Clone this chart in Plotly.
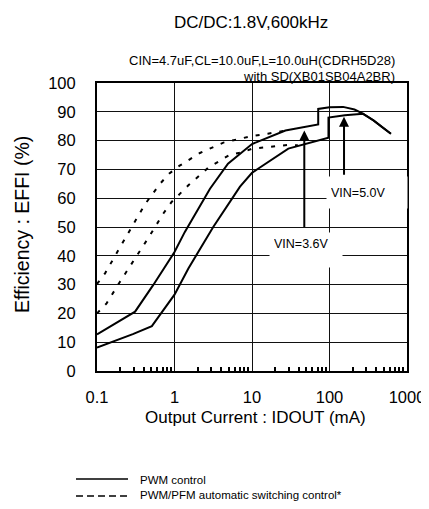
import math
import plotly.graph_objects as go

# ---- data ----
pwm_36_x = [0.1, 0.31, 0.53, 1.0, 1.36, 2.87, 4.9, 10, 27, 70, 71.5, 71.5, 100, 150, 210, 270, 370, 470, 620]
pwm_36_y = [12.7, 20.6, 29.8, 41.3, 48.3, 63.3, 72.0, 78.8, 83.5, 85.4, 85.6, 91.0, 91.6, 91.7, 90.8, 89.4, 87.0, 84.8, 82.4]

pwm_50_x = [0.1, 0.29, 0.51, 1.0, 1.51, 3.16, 7.0, 10, 12.1, 29.4, 97, 97, 158, 224, 270, 370, 470, 620]
pwm_50_y = [8.1, 12.8, 15.6, 26.5, 35.6, 50.0, 64.0, 68.8, 70.3, 77.2, 81.0, 88.0, 88.8, 89.1, 89.3, 87.0, 84.8, 82.4]

pfm_36_x = [0.1, 0.127, 0.188, 0.275, 0.416, 0.65, 0.85, 1.15, 2.13, 4.27, 6.3, 10, 16, 27]
pfm_36_y = [30.2, 33.9, 41.9, 49.8, 57.9, 65.0, 68.5, 71.2, 75.7, 79.3, 80.4, 81.6, 82.4, 83.5]

pfm_50_x = [0.1, 0.133, 0.198, 0.309, 0.469, 0.718, 0.918, 1.18, 1.51, 2.73, 5.2, 7.7, 10, 29, 39]
pfm_50_y = [20.0, 23.5, 31.0, 39.0, 46.6, 54.7, 58.7, 61.6, 64.5, 70.6, 75.1, 76.0, 77.2, 78.5, 78.4]

x_tickvals = [0.1, 1, 10, 100, 1000]
x_ticktext = ["0.1", "1", "10", "100", "1000"]
minor_vals = [m * d for d in (0.1, 1, 10, 100) for m in range(2, 10)]

# arrows: (label, current mA, tip efficiency, tail efficiency)
arrows = [("VIN=3.6V", 47.3, 83.5, 49.5), ("VIN=5.0V", 154, 88.3, 67.6)]

FONT = "Liberation Sans, Arial, sans-serif"

fig = go.Figure()
solid = dict(color="black", width=2)
dashed = dict(color="black", width=2, dash="4px,8px")
fig.add_trace(go.Scatter(x=pwm_36_x, y=pwm_36_y, mode="lines", line=solid, showlegend=False))
fig.add_trace(go.Scatter(x=pwm_50_x, y=pwm_50_y, mode="lines", line=solid, showlegend=False))
fig.add_trace(go.Scatter(x=pfm_36_x, y=pfm_36_y, mode="lines", line=dashed, showlegend=False))
fig.add_trace(go.Scatter(x=pfm_50_x, y=pfm_50_y, mode="lines", line=dashed, showlegend=False))

# the page body adds an 8px margin, so the figure is 8px smaller and margins shifted
fig.update_layout(
    width=421, height=501,
    margin=dict(l=89, r=22, t=75, b=138, autoexpand=False),
    showlegend=False,
    paper_bgcolor="white", plot_bgcolor="white",
    font=dict(family=FONT, color="black"),
    xaxis=dict(
        type="log", range=[-1, 3], automargin=False,
        tickvals=x_tickvals, ticktext=x_ticktext,
        showgrid=True, gridcolor="#111", gridwidth=1.4,
        ticks="", ticklabelstandoff=10,
        tickfont=dict(size=16.5),
        showline=True, linecolor="black", linewidth=2, mirror=True,
        minor=dict(tickvals=minor_vals, ticks="inside", ticklen=4, tickwidth=2,
                   tickcolor="black", showgrid=False),
        zeroline=False,
    ),
    yaxis=dict(
        range=[0, 100], dtick=10, tick0=0, automargin=False,
        showgrid=True, gridcolor="#111", gridwidth=1.4,
        ticks="", ticklabelstandoff=16,
        tickfont=dict(size=16.5),
        showline=True, linecolor="black", linewidth=2, mirror=True,
        zeroline=False,
    ),
)

ann = []
# titles
ann.append(dict(text="DC/DC:1.8V,600kHz", xref="paper", yref="paper", x=0.497, y=1.21,
                xanchor="center", yanchor="middle", showarrow=False, font=dict(size=17)))
ann.append(dict(text="CIN=4.7uF,CL=10.0uF,L=10.0uH(CDRH5D28)", xref="paper", yref="paper",
                x=0.968, y=1.0764, xanchor="right", yanchor="middle", showarrow=False, font=dict(size=13)))
ann.append(dict(text="with SD(XB01SB04A2BR)", xref="paper", yref="paper",
                x=0.968, y=1.0243, xanchor="right", yanchor="middle", showarrow=False, font=dict(size=13)))
ann.append(dict(text="Efficiency : EFFI (%)", xref="paper", yref="paper", x=-0.242, y=0.51,
                xanchor="center", yanchor="middle", textangle=-90, showarrow=False, font=dict(size=19.5)))
ann.append(dict(text="Output Current : IDOUT (mA)", xref="paper", yref="paper", x=0.51, y=-0.163,
                xanchor="center", yanchor="middle", showarrow=False, font=dict(size=17)))

# arrows
for label, cur, tip, tail in arrows:
    lx = math.log10(cur)
    ann.append(dict(x=lx, y=tip, ax=lx, ay=tail, xref="x", yref="y", axref="x", ayref="y",
                    text="", showarrow=True, arrowhead=2, arrowsize=1, arrowwidth=2,
                    arrowcolor="black", standoff=0, startstandoff=0))

# labels with white boxes
ann.append(dict(text="VIN=3.6V", xref="x", yref="y", x=1.697, y=41.9, showarrow=False,
                bgcolor="white", borderpad=4, width=64, height=26, align="left", valign="top",
                font=dict(size=12.5)))
ann.append(dict(text="VIN=5.0V", xref="x", yref="y", x=2.484, y=61.9, showarrow=False,
                bgcolor="white", borderpad=4, width=72, height=23, align="left", valign="middle",
                font=dict(size=12.5)))

# legend (drawn manually)
ann.append(dict(text="PWM control", xref="paper", yref="paper", x=0.132, y=-0.378,
                xanchor="left", yanchor="middle", showarrow=False, font=dict(size=11.5)))
ann.append(dict(text="PWM/PFM automatic switching control*", xref="paper", yref="paper", x=0.132, y=-0.4306,
                xanchor="left", yanchor="middle", showarrow=False, font=dict(size=11.5)))
fig.update_layout(annotations=ann)

fig.add_shape(type="line", xref="paper", yref="paper", x0=-0.0677, x1=0.1, y0=-0.375, y1=-0.375,
              line=dict(color="black", width=1.5))
fig.add_shape(type="line", xref="paper", yref="paper", x0=-0.0677, x1=0.1, y0=-0.434, y1=-0.434,
              line=dict(color="black", width=1.5, dash="7px,4px"))

fig.write_html("out.html")
